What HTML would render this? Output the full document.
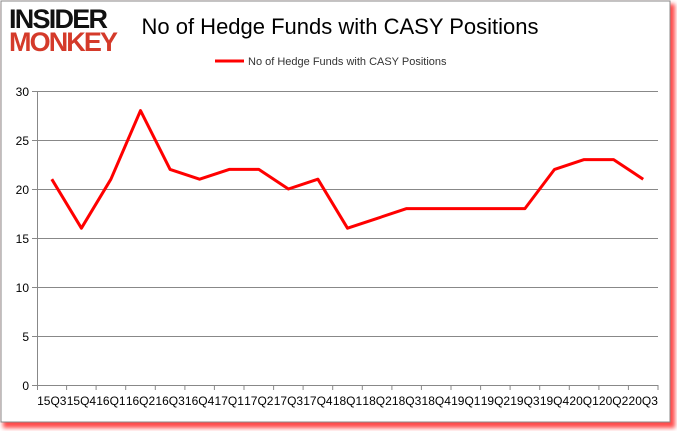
<!DOCTYPE html>
<html><head><style>
html,body{margin:0;padding:0;background:#fff;}
body{width:677px;height:431px;overflow:hidden;font-family:"Liberation Sans",sans-serif;}
</style></head><body>
<svg width="677" height="431" xmlns="http://www.w3.org/2000/svg">
<defs><filter id="b"><feGaussianBlur stdDeviation="2"/></filter></defs>
<rect x="3" y="4" width="672" height="424" fill="#f00" opacity="0.7" filter="url(#b)"/>
<rect x="1" y="1" width="669" height="421" fill="#fff" stroke="#888" stroke-width="1"/>
<text x="9" y="28" font-size="27" font-weight="bold" fill="#111" letter-spacing="1" textLength="100">INSIDER</text>
<text x="9" y="51" font-size="27" font-weight="bold" fill="#d43a2a" letter-spacing="1" textLength="110">MONKEY</text>
<text x="340" y="34" font-size="22" text-anchor="middle" fill="#000">No of Hedge Funds with CASY Positions</text>
<line x1="215" y1="61" x2="244" y2="61" stroke="#f00" stroke-width="3"/>
<text x="248" y="65" font-size="11" fill="#333">No of Hedge Funds with CASY Positions</text>
<g stroke="#888" stroke-width="1">
<line x1="37" y1="91.5" x2="658" y2="91.5"/>
<line x1="37" y1="140.5" x2="658" y2="140.5"/>
<line x1="37" y1="189.5" x2="658" y2="189.5"/>
<line x1="37" y1="238.5" x2="658" y2="238.5"/>
<line x1="37" y1="287.5" x2="658" y2="287.5"/>
<line x1="37" y1="336.5" x2="658" y2="336.5"/>
<line x1="37" y1="385.5" x2="658" y2="385.5"/>
<line x1="37.5" y1="91" x2="37.5" y2="390"/>
<line x1="32" y1="91.5" x2="37" y2="91.5"/><line x1="32" y1="140.5" x2="37" y2="140.5"/><line x1="32" y1="189.5" x2="37" y2="189.5"/><line x1="32" y1="238.5" x2="37" y2="238.5"/><line x1="32" y1="287.5" x2="37" y2="287.5"/><line x1="32" y1="336.5" x2="37" y2="336.5"/><line x1="32" y1="385.5" x2="37" y2="385.5"/>
<line x1="66.6" y1="385" x2="66.6" y2="390"/><line x1="96.1" y1="385" x2="96.1" y2="390"/><line x1="125.7" y1="385" x2="125.7" y2="390"/><line x1="155.3" y1="385" x2="155.3" y2="390"/><line x1="184.9" y1="385" x2="184.9" y2="390"/><line x1="214.4" y1="385" x2="214.4" y2="390"/><line x1="244" y1="385" x2="244" y2="390"/><line x1="273.6" y1="385" x2="273.6" y2="390"/><line x1="303.1" y1="385" x2="303.1" y2="390"/><line x1="332.7" y1="385" x2="332.7" y2="390"/><line x1="362.3" y1="385" x2="362.3" y2="390"/><line x1="391.9" y1="385" x2="391.9" y2="390"/><line x1="421.4" y1="385" x2="421.4" y2="390"/><line x1="451" y1="385" x2="451" y2="390"/><line x1="480.6" y1="385" x2="480.6" y2="390"/><line x1="510.1" y1="385" x2="510.1" y2="390"/><line x1="539.7" y1="385" x2="539.7" y2="390"/><line x1="569.3" y1="385" x2="569.3" y2="390"/><line x1="598.9" y1="385" x2="598.9" y2="390"/><line x1="628.4" y1="385" x2="628.4" y2="390"/><line x1="658" y1="385" x2="658" y2="390"/>
</g>
<g font-size="12" fill="#000" text-anchor="end">
<text x="29" y="96">30</text><text x="29" y="145">25</text><text x="29" y="194">20</text><text x="29" y="243">15</text><text x="29" y="292">10</text><text x="29" y="341">5</text><text x="29" y="390">0</text>
</g>
<g font-size="12" fill="#000" text-anchor="middle">
<text x="51.8" y="405">15Q3</text><text x="81.4" y="405">15Q4</text><text x="110.9" y="405">16Q1</text><text x="140.5" y="405">16Q2</text><text x="170.1" y="405">16Q3</text><text x="199.6" y="405">16Q4</text><text x="229.2" y="405">17Q1</text><text x="258.8" y="405">17Q2</text><text x="288.4" y="405">17Q3</text><text x="317.9" y="405">17Q4</text><text x="347.5" y="405">18Q1</text><text x="377.1" y="405">18Q2</text><text x="406.6" y="405">18Q3</text><text x="436.2" y="405">18Q4</text><text x="465.8" y="405">19Q1</text><text x="495.4" y="405">19Q2</text><text x="524.9" y="405">19Q3</text><text x="554.5" y="405">19Q4</text><text x="584.1" y="405">20Q1</text><text x="613.6" y="405">20Q2</text><text x="643.2" y="405">20Q3</text>
</g>
<polyline fill="none" stroke="#f00" stroke-width="3" stroke-linejoin="round" points="51.8,179.2 81.4,228.2 110.9,179.2 140.5,110.6 170.1,169.4 199.6,179.2 229.2,169.4 258.8,169.4 288.4,189 317.9,179.2 347.5,228.2 377.1,218.4 406.6,208.6 436.2,208.6 465.8,208.6 495.4,208.6 524.9,208.6 554.5,169.4 584.1,159.6 613.6,159.6 643.2,179.2"/>
</svg>
</body></html>
